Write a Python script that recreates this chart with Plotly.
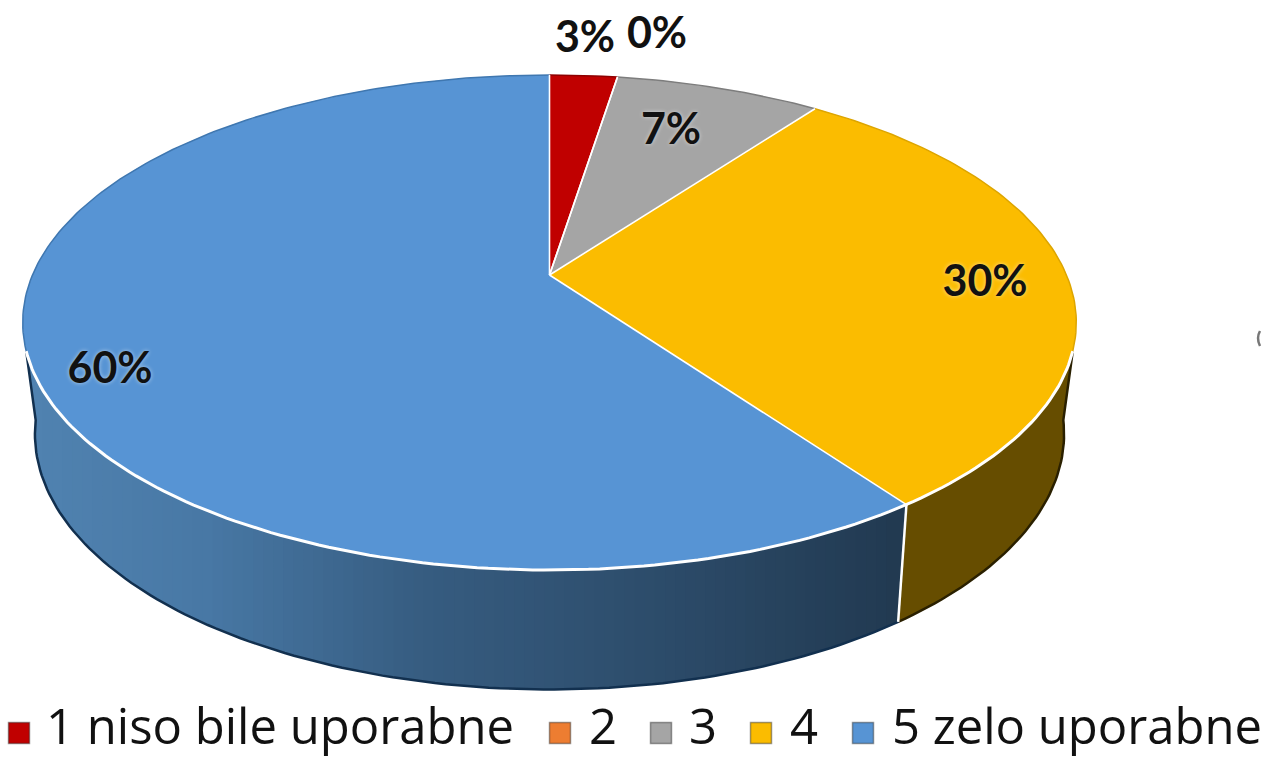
import math
import plotly.graph_objects as go

# ---- data ----
categories = ["1 niso bile uporabne", "2", "3", "4", "5 zelo uporabne"]
values = [2.5, 0.0, 7.6, 30.0, 59.9]
labels = ["3%", "0%", "7%", "30%", "60%"]
colors = ["#C00000", "#ED7D31", "#A5A5A5", "#FBBC00", "#5794D4"]
rim_colors = ["#8E0000", "#ED7D31", "#7D7D7D", "#DDA500", "#3F77B0"]

# ---- label / legend layout (pixels) ----
label_x = [585, 657, 671, 985, 110]
label_y = [41, 37, 133, 285, 372]
legend_box_x = [19, 560, 661, 761, 863]
legend_text_x = [46, 589, 689, 790, 892]
legend_y = 733

# ---- perspective geometry of the disc ----
CX = 549.5
TOP = dict(cx=CX, cy=275, sx=517, sy=238.4)
LOW = dict(cx=CX, cy=385, sx=505, sy=246)
K = 0.192
WALL_FROM, WALL_TO = 107.5, 252.5
LOW_FROM, LOW_TO = 98.0, 262.0


def project(theta, plane, r=1.0):
    t = math.radians(theta)
    u, v = r * math.sin(t), -r * math.cos(t)
    d = 1 - K * v
    return plane["cx"] + plane["sx"] * u / d, plane["cy"] + plane["sy"] * v / d


def arc(a, b, plane, step=1.0):
    n = max(2, int(abs(b - a) / step) + 1)
    pts = [project(a + (b - a) * i / (n - 1), plane) for i in range(n)]
    return [p[0] for p in pts], [p[1] for p in pts]


def angle_at_x(x, plane, lo, hi):
    """Angle between lo (right) and hi (left) where the rim of the plane has this x."""
    for _ in range(40):
        mid = (lo + hi) / 2
        if project(mid, plane)[0] > x:
            lo = mid
        else:
            hi = mid
    return (lo + hi) / 2


def lerp_color(x):
    stops = [(30, (80, 130, 176)), (200, (72, 120, 165)), (420, (54, 92, 128)),
             (600, (47, 80, 112)), (900, (33, 57, 80))]
    if x <= stops[0][0]:
        c = stops[0][1]
    elif x >= stops[-1][0]:
        c = stops[-1][1]
    else:
        for (x0, c0), (x1, c1) in zip(stops, stops[1:]):
            if x0 <= x <= x1:
                f = (x - x0) / (x1 - x0)
                c = tuple(c0[i] + (c1[i] - c0[i]) * f for i in range(3))
                break
    return "rgb(%d,%d,%d)" % tuple(round(v) for v in c)


# slice boundaries in degrees, clockwise from the top
total = sum(values)
edges = [0.0]
for val in values:
    edges.append(edges[-1] + 360.0 * val / total)

fig = go.Figure()


def poly(xs, ys, fill, line=None, width=0.0):
    fig.add_trace(go.Scatter(
        x=xs, y=ys, mode="lines", fill="toself", fillcolor=fill,
        line=dict(color=line or fill, width=width), hoverinfo="skip", showlegend=False))


def stroke(xs, ys, color, width):
    fig.add_trace(go.Scatter(
        x=xs, y=ys, mode="lines", line=dict(color=color, width=width),
        hoverinfo="skip", showlegend=False))


# walls: the yellow slice in flat brown, the blue slice in a gradient
split = edges[4]
xa, ya = arc(WALL_FROM, split, TOP)
xb, yb = arc(LOW_FROM, split, LOW)
poly(xa + xb[::-1], ya + yb[::-1], "#664D00", "#664D00", 0.5)
stroke([xa[0]] + xb, [ya[0]] + yb, "#2A2000", 2.5)

# full blue wall first, then vertical bands: each band reaches to the far end of the wall
xa, ya = arc(WALL_TO, split, TOP)
xb, yb = arc(LOW_TO, split, LOW)
poly(xa + xb[::-1], ya + yb[::-1], lerp_color(30))
n_strips = 85
x_split = project(split, LOW)[0]
for i in range(n_strips):
    band_x = 42 + (x_split - 44) * i / n_strips
    xa, ya = arc(angle_at_x(band_x, TOP, split, WALL_TO), split, TOP)
    xb, yb = arc(angle_at_x(band_x, LOW, split, LOW_TO), split, LOW)
    poly(xa + xb[::-1], ya + yb[::-1], lerp_color(band_x))
xb, yb = arc(split, LOW_TO, LOW)
xs0, ys0 = project(WALL_TO, TOP)
stroke(xb + [xs0], yb + [ys0], "#12304F", 2.5)

# wall seam between yellow and blue
xs0, ys0 = project(split, TOP)
xs1, ys1 = project(split, LOW)
stroke([xs0, xs1], [ys0, ys1], "#FFFFFF", 2.5)

# top face with a slightly darker outer edge
for i, val in enumerate(values):
    if val <= 0:
        continue
    xa, ya = arc(edges[i], edges[i + 1], TOP)
    poly([TOP["cx"]] + xa + [TOP["cx"]], [TOP["cy"]] + ya + [TOP["cy"]], colors[i])
    stroke(xa, ya, rim_colors[i], 1.5)

# white separators on the top face
for e in edges[:-1]:
    x1, y1 = project(e, TOP)
    stroke([TOP["cx"], x1], [TOP["cy"], y1], "#FFFFFF", 1.6)

# white front rim
xa, ya = arc(WALL_FROM, WALL_TO, TOP)
stroke(xa, ya, "#FFFFFF", 3)

# data labels
fig.add_trace(go.Scatter(
    x=label_x, y=label_y, mode="text", text=labels,
    textfont=dict(family="Lato", size=43, color="#111111", weight="bold",
                  shadow="0 0 4px rgba(255,255,255,0.55)"),
    textposition="middle center", hoverinfo="skip", showlegend=False))

# legend squares and names
for cat, col, bx, tx in zip(categories, colors, legend_box_x, legend_text_x):
    fig.add_trace(go.Scatter(
        x=[bx], y=[legend_y], mode="markers", name=cat,
        marker=dict(symbol="square", size=21, color=col,
                    line=dict(color="rgba(40,40,40,0.45)", width=1.5)),
        hoverinfo="skip", showlegend=False))
    fig.add_trace(go.Scatter(
        x=[tx], y=[legend_y - 1], mode="text", text=[cat], textposition="middle right",
        textfont=dict(family="Open Sans", size=49, color="#111111"),
        hoverinfo="skip", showlegend=False))

fig.update_layout(
    width=1268, height=757,
    margin=dict(l=0, r=0, t=0, b=0),
    paper_bgcolor="white", plot_bgcolor="white",
    showlegend=False,
    xaxis=dict(range=[0, 1268], visible=False, fixedrange=True),
    yaxis=dict(range=[757, 0], visible=False, fixedrange=True),
    shapes=[dict(type="path", path="M 1260 331 Q 1256 338 1260 346",
                 line=dict(color="#777777", width=2.5))],
)
fig.write_html("out.html", config=dict(displayModeBar=False),
               post_script="document.body.style.margin='0';document.body.style.overflow='hidden';")
